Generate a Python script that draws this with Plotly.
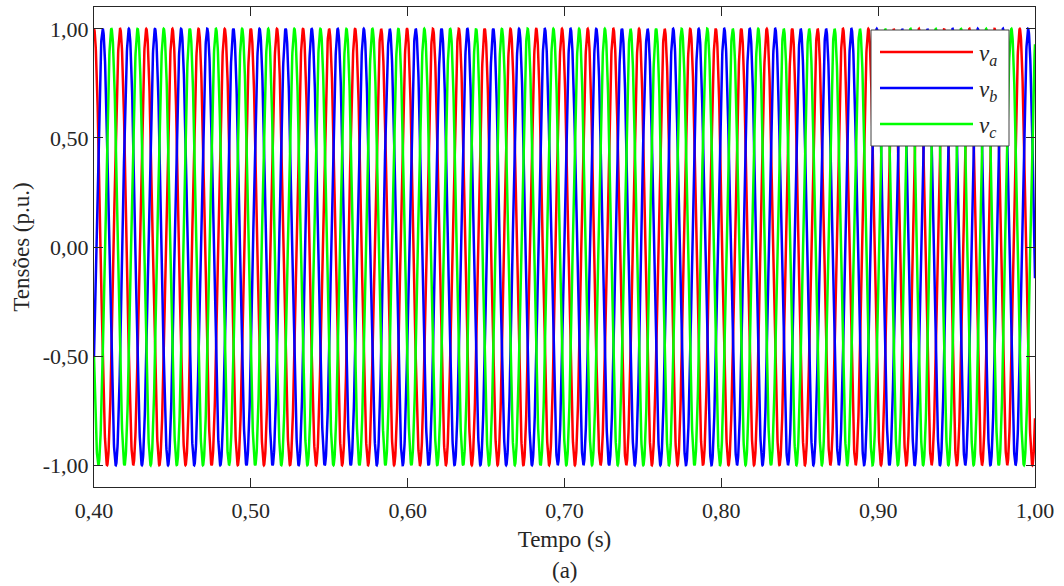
import numpy as np
import plotly.graph_objects as go

# ---- data ----
t_start, t_end = 0.40, 1.00          # time window (s)
base_freq_hz = 60.0                   # nominal frequency
ramp_start_s = 0.50                   # frequency begins to rise here
ramp_rate_hz_per_s = 4.85             # estimated from phase drift at the end
amplitude_pu = 1.0
phase_names = ["v_a", "v_b", "v_c"]
phase_shift_deg = [0.0, -120.0, 120.0]
phase_colors = ["#ff0000", "#0000ff", "#00ff00"]
x_ticks = [0.40, 0.50, 0.60, 0.70, 0.80, 0.90, 1.00]
x_tick_labels = ["0,40", "0,50", "0,60", "0,70", "0,80", "0,90", "1,00"]
y_ticks = [-1.0, -0.5, 0.0, 0.5, 1.0]
y_tick_labels = ["-1,00", "-0,50", "0,00", "0,50", "1,00"]

t = np.linspace(t_start, t_end, 6001)
ramp = np.clip(t - ramp_start_s, 0, None)
cycles = base_freq_hz * (t - t_start) + 0.5 * ramp_rate_hz_per_s * ramp ** 2

fig = go.Figure()
for name, sh, col in zip(phase_names, phase_shift_deg, phase_colors):
    v = amplitude_pu * np.cos(2 * np.pi * cycles + np.deg2rad(sh))
    fig.add_trace(go.Scatter(x=t, y=v, mode="lines", name=name,
                             line=dict(color=col, width=2.5), showlegend=False))

axis_col = "#262626"
font_fam = "Liberation Serif, Times New Roman, serif"
tick_size = 22
title_size = 23

fig.update_layout(
    width=1064, height=586,
    margin=dict(l=94, r=29, t=7, b=99),
    paper_bgcolor="white", plot_bgcolor="white",
    font=dict(family=font_fam, size=tick_size, color=axis_col),
    xaxis=dict(range=[t_start, t_end], tickvals=x_ticks, ticktext=x_tick_labels,
               ticks="inside", ticklen=9, tickcolor=axis_col, showline=True,
               linecolor=axis_col, linewidth=1, mirror="ticks", showgrid=False,
               zeroline=False, ticklabelstandoff=4,
               tickfont=dict(family=font_fam, size=tick_size, color=axis_col),
               title=dict(text="Tempo (s)", font=dict(family=font_fam, size=title_size, color=axis_col),
                          standoff=8)),
    yaxis=dict(range=[-1.1, 1.1], tickvals=y_ticks, ticktext=y_tick_labels,
               ticks="inside", ticklen=9, tickcolor=axis_col, showline=True,
               linecolor=axis_col, linewidth=1, mirror="ticks", showgrid=False,
               zeroline=False,
               tickfont=dict(family=font_fam, size=tick_size, color=axis_col),
               title=dict(text="Tensões (p.u.)", font=dict(family=font_fam, size=title_size, color=axis_col),
                          standoff=6)),
)

# caption
fig.add_annotation(text="(a)", xref="paper", yref="paper", x=0.5, y=-0.173,
                   xanchor="center", yanchor="middle", showarrow=False,
                   font=dict(family=font_fam, size=title_size, color=axis_col))

# custom legend box (paper coordinates)
def px_to_paper_x(px):
    return (px - 94) / (1035 - 94)

def px_to_paper_y(py):
    return (487 - py) / (487 - 7)

fig.add_shape(type="rect", xref="paper", yref="paper",
              x0=px_to_paper_x(871), x1=px_to_paper_x(1009),
              y0=px_to_paper_y(146), y1=px_to_paper_y(30),
              line=dict(color="#404040", width=1), fillcolor="white", layer="above")
legend_rows_px = [52, 88, 124]
subs = ["a", "b", "c"]
for ypx, col, s in zip(legend_rows_px, phase_colors, subs):
    fig.add_shape(type="line", xref="paper", yref="paper",
                  x0=px_to_paper_x(880), x1=px_to_paper_x(973),
                  y0=px_to_paper_y(ypx), y1=px_to_paper_y(ypx),
                  line=dict(color=col, width=2.5), layer="above")
    fig.add_annotation(text=f"<i>v</i><sub><i>{s}</i></sub>", xref="paper", yref="paper",
                       x=px_to_paper_x(977), y=px_to_paper_y(ypx + 3),
                       xanchor="left", yanchor="middle", showarrow=False,
                       font=dict(family=font_fam, size=23, color=axis_col))

fig.write_html("out.html")
